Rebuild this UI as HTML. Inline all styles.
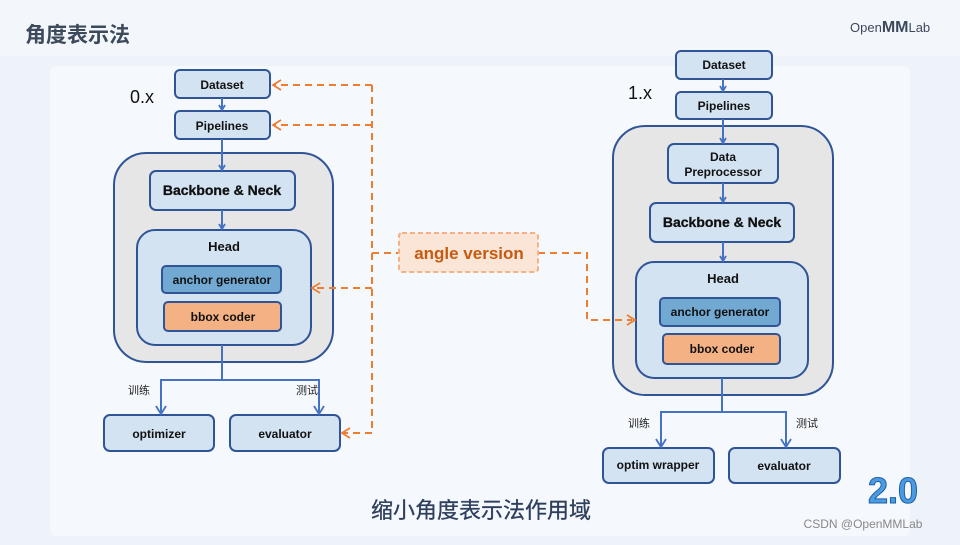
<!DOCTYPE html>
<html><head><meta charset="utf-8"><style>
body{margin:0;width:960px;height:540px;overflow:hidden;background:#eef3fa;font-family:"Liberation Sans","Noto Sans CJK SC",sans-serif}
</style></head><body>
<svg width="960" height="540" viewBox="0 0 960 540" xmlns="http://www.w3.org/2000/svg" font-family="Liberation Sans, Noto Sans CJK SC, sans-serif">
<rect width="960" height="540" fill="#eef3fa"/>
<rect x="0" y="0" width="960" height="56" fill="#f3f6fb"/>
<rect x="50" y="66" width="860" height="470" rx="6" fill="#f5f8fd"/>
<text x="25" y="42" font-size="21" font-weight="bold" fill="#3d4a5c">角度表示法</text>
<text x="850" y="32" font-size="13" fill="#3d4a5c">Open<tspan font-weight="bold" font-size="16">MM</tspan>Lab</text>
<text x="130" y="103" font-size="18" fill="#111">0.x</text>
<text x="628" y="99" font-size="18" fill="#111">1.x</text>

<g stroke="#2f5597" stroke-width="2">
<rect x="114" y="153" width="219" height="209" rx="32" fill="#e6e6e6"/>
<rect x="613" y="126" width="220" height="269" rx="32" fill="#e6e6e6"/>
<g fill="#d3e3f2">
<rect x="175" y="70" width="95" height="28" rx="5"/>
<rect x="175" y="111" width="95" height="28" rx="5"/>
<rect x="150" y="171" width="145" height="39" rx="6"/>
<rect x="137" y="230" width="174" height="115" rx="18"/>
<rect x="104" y="415" width="110" height="36" rx="6"/>
<rect x="230" y="415" width="110" height="36" rx="6"/>
<rect x="676" y="51" width="96" height="28" rx="5"/>
<rect x="676" y="92" width="96" height="27" rx="5"/>
<rect x="668" y="144" width="110" height="39" rx="6"/>
<rect x="650" y="203" width="144" height="39" rx="6"/>
<rect x="636" y="262" width="172" height="116" rx="18"/>
<rect x="603" y="448" width="111" height="35" rx="6"/>
<rect x="729" y="448" width="111" height="35" rx="6"/>
</g>
<rect x="162" y="266" width="119" height="27" rx="4" fill="#72a9d2"/>
<rect x="164" y="302" width="117" height="29" rx="4" fill="#f4b183"/>
<rect x="660" y="298" width="120" height="28" rx="4" fill="#72a9d2"/>
<rect x="663" y="334" width="117" height="30" rx="4" fill="#f4b183"/>
</g>

<g stroke="#4472c4" stroke-width="2" fill="none">
<line x1="222" y1="98" x2="222" y2="110"/>
<line x1="222" y1="139" x2="222" y2="170"/>
<line x1="222" y1="210" x2="222" y2="229"/>
<polyline points="222,345 222,380 161,380 161,413"/>
<polyline points="222,380 319,380 319,413"/>
<line x1="723" y1="79" x2="723" y2="91"/>
<line x1="723" y1="119" x2="723" y2="143"/>
<line x1="723" y1="183" x2="723" y2="202"/>
<line x1="723" y1="242" x2="723" y2="261"/>
<polyline points="722,378 722,412 661,412 661,446"/>
<polyline points="722,412 786,412 786,446"/>
</g>
<g stroke="#4472c4" stroke-width="1.8" fill="none">
<path d="M219,105 L222,110 L225,105"/>
<path d="M219,165 L222,170 L225,165"/>
<path d="M219,224 L222,229 L225,224"/>
<path d="M156,406 L161,414 L166,406"/>
<path d="M314,406 L319,414 L324,406"/>
<path d="M720,86 L723,91 L726,86"/>
<path d="M720,138 L723,143 L726,138"/>
<path d="M720,197 L723,202 L726,197"/>
<path d="M720,256 L723,261 L726,256"/>
<path d="M656,439 L661,447 L666,439"/>
<path d="M781,439 L786,447 L791,439"/>
</g>

<g stroke="#ed7d31" stroke-width="2" fill="none" stroke-dasharray="7,5">
<line x1="372" y1="85" x2="372" y2="433"/>
<line x1="372" y1="85" x2="274" y2="85"/>
<line x1="372" y1="125" x2="274" y2="125"/>
<line x1="372" y1="288" x2="315" y2="288"/>
<line x1="372" y1="433" x2="344" y2="433"/>
<line x1="372" y1="253" x2="399" y2="253"/>
<polyline points="538,253 587,253 587,320 632,320"/>
</g>
<g stroke="#ed7d31" stroke-width="1.8" fill="none">
<path d="M281,80 L273,85 L281,90"/>
<path d="M281,120 L273,125 L281,130"/>
<path d="M320,283 L312,288 L320,293"/>
<path d="M350,428 L342,433 L350,438"/>
<path d="M627,315 L635,320 L627,325"/>
</g>
<rect x="399" y="233" width="139" height="39" rx="3" fill="#fbe5d6" stroke="#f4b183" stroke-width="2" stroke-dasharray="5,3"/>
<text x="469" y="259" font-size="17" font-weight="bold" fill="#c55a11" text-anchor="middle">angle version</text>

<g font-size="12" font-weight="bold" fill="#111" text-anchor="middle">
<text x="222" y="89">Dataset</text>
<text x="222" y="130">Pipelines</text>
<text x="222" y="195" font-size="14" stroke="#111" stroke-width="0.3">Backbone &amp; Neck</text>
<text x="224" y="251" font-size="13">Head</text>
<text x="222" y="284">anchor generator</text>
<text x="223" y="321">bbox coder</text>
<text x="159" y="438">optimizer</text>
<text x="285" y="438">evaluator</text>
<text x="724" y="69">Dataset</text>
<text x="724" y="110">Pipelines</text>
<text x="723" y="161">Data</text>
<text x="723" y="176">Preprocessor</text>
<text x="722" y="227" font-size="14" stroke="#111" stroke-width="0.3">Backbone &amp; Neck</text>
<text x="723" y="283" font-size="13">Head</text>
<text x="720" y="316">anchor generator</text>
<text x="722" y="353">bbox coder</text>
<text x="658" y="469">optim wrapper</text>
<text x="784" y="470">evaluator</text>
</g>
<g font-size="11" fill="#222">
<text x="128" y="394">训练</text>
<text x="296" y="394">测试</text>
<text x="628" y="427">训练</text>
<text x="796" y="427">测试</text>
</g>
<text x="481" y="518" font-size="22" fill="#2e3f5c" text-anchor="middle" stroke="#2e3f5c" stroke-width="0.3">缩小角度表示法作用域</text>
<text x="893" y="503" font-size="36" font-weight="bold" fill="#4a9be0" stroke="#1f5fa8" stroke-width="1" text-anchor="middle">2.0</text>
<text x="863" y="528" font-size="12" fill="#888" text-anchor="middle">CSDN @OpenMMLab</text>
</svg>
</body></html>
